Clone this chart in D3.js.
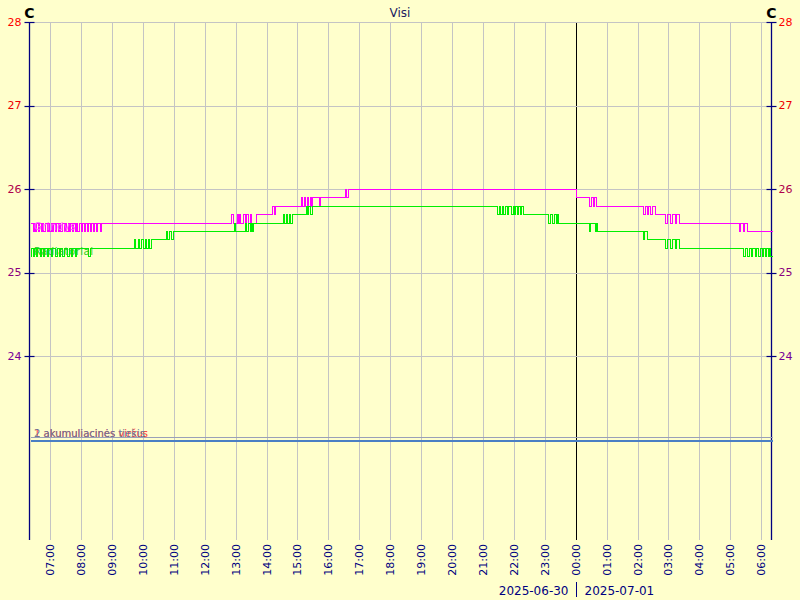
<!DOCTYPE html>
<html><head><meta charset="utf-8">
<script src="https://cdn.jsdelivr.net/npm/d3@7"></script>
<style>
html,body{margin:0;padding:0;background:#ffffcc;}
svg{display:block;font-family:"DejaVu Sans",sans-serif;}
</style></head>
<body>
<svg id="c" width="800" height="600"></svg>
<script>
// ---- data ----
const title = "Visi";
const unitLabel = "C";
const yTicks = [24, 25, 26, 27, 28];
const yTickColors = ["#770099", "#8a0080", "#b0004c", "#ee0000", "#ff0000"];
const hourTicks = ["07:00","08:00","09:00","10:00","11:00","12:00","13:00","14:00","15:00","16:00","17:00","18:00","19:00","20:00","21:00","22:00","23:00","00:00","01:00","02:00","03:00","04:00","05:00","06:00"];
const dateLabels = ["2025-06-30", "2025-07-01"];
const rangeStart = "2025-06-30T06:20";
const rangeEnd = "2025-07-01T06:20";

// Grindys (magenta): step readings [time, value]
const grindys = [
 ["06:20",25.6],["06:26",25.5],["06:28",25.6],["06:31",25.5],["06:33",25.6],["06:36",25.5],["06:39",25.6],
 ["06:42",25.5],["06:44",25.6],["06:47",25.5],["06:50",25.6],["06:53",25.5],["06:55",25.6],["06:58",25.5],
 ["07:01",25.6],["07:04",25.5],["07:06",25.6],["07:09",25.5],["07:12",25.6],["07:15",25.5],["07:17",25.6],
 ["07:20",25.5],["07:23",25.6],["07:26",25.5],["07:28",25.6],["07:31",25.5],["07:34",25.6],["07:37",25.5],
 ["07:39",25.6],["07:42",25.5],["07:45",25.6],["07:48",25.5],["07:50",25.6],["07:53",25.5],["07:56",25.6],
 ["07:59",25.5],["08:01",25.6],["08:05",25.5],["08:07",25.6],["08:11",25.5],["08:13",25.6],["08:17",25.5],
 ["08:19",25.6],["08:23",25.5],["08:25",25.6],["08:29",25.5],["08:31",25.6],["08:36",25.5],["08:38",25.6],
 ["12:52",25.7],["12:54",25.6],["13:02",25.7],["13:05",25.6],["13:07",25.7],["13:09",25.6],["13:15",25.7],
 ["13:18",25.6],["13:21",25.7],["13:24",25.6],["13:27",25.7],["13:29",25.6],["13:40",25.7],
 ["14:11",25.8],["14:14",25.7],["14:17",25.8],
 ["15:06",25.9],["15:09",25.8],["15:12",25.9],["15:15",25.8],["15:18",25.9],["15:21",25.8],["15:24",25.9],
 ["15:26",25.8],["15:29",25.9],["15:41",25.8],["15:43",25.9],
 ["16:33",26.0],["16:35",25.9],["16:38",26.0],
 ["00:01",25.9],["00:26",25.8],["00:29",25.9],["00:33",25.8],["00:35",25.9],["00:39",25.8],
 ["02:11",25.7],["02:14",25.8],["02:18",25.7],["02:21",25.8],["02:25",25.7],["02:28",25.8],["02:33",25.7],
 ["02:54",25.6],["02:57",25.7],["03:03",25.6],["03:06",25.7],["03:12",25.6],["03:15",25.7],["03:21",25.6],
 ["05:16",25.5],["05:19",25.6],["05:24",25.5],["05:27",25.6],["05:32",25.5]
];

// Radiatoriai (green)
const radiatoriai = [
 ["06:20",25.2],["06:23",25.3],["06:26",25.2],["06:28",25.3],["06:33",25.2],["06:35",25.3],["06:40",25.2],
 ["06:42",25.3],["06:46",25.2],["06:48",25.3],["06:53",25.2],["06:55",25.3],["07:02",25.2],["07:04",25.3],
 ["07:10",25.2],["07:13",25.3],["07:17",25.2],["07:19",25.3],["07:24",25.2],["07:26",25.3],["07:33",25.2],
 ["07:36",25.3],["07:41",25.2],["07:43",25.3],["07:49",25.2],["07:51",25.3],["08:14",25.2],["08:17",25.3],
 ["09:42",25.4],["09:44",25.3],["09:50",25.4],["09:53",25.3],["09:57",25.4],["10:00",25.3],["10:04",25.4],
 ["10:06",25.3],["10:10",25.4],["10:12",25.3],["10:16",25.4],
 ["10:44",25.5],["10:47",25.4],["10:51",25.5],["10:54",25.4],["10:58",25.5],
 ["12:56",25.6],["12:58",25.5],
 ["13:19",25.6],["13:21",25.5],["13:24",25.6],["13:27",25.5],["13:29",25.6],["13:31",25.5],["13:34",25.6],
 ["14:31",25.7],["14:33",25.6],["14:37",25.7],["14:40",25.6],["14:43",25.7],["14:45",25.6],["14:49",25.7],
 ["15:16",25.8],["15:18",25.7],["15:21",25.8],["15:24",25.7],["15:28",25.8],
 ["21:28",25.7],["21:31",25.8],["21:33",25.7],["21:37",25.8],["21:39",25.7],["21:43",25.8],["21:46",25.7],
 ["21:49",25.8],["21:54",25.7],["21:58",25.8],["22:01",25.7],["22:03",25.8],["22:06",25.7],["22:09",25.8],
 ["22:12",25.7],["22:14",25.8],["22:17",25.7],
 ["23:07",25.6],["23:10",25.7],["23:14",25.6],["23:17",25.7],["23:21",25.6],["23:23",25.7],["23:25",25.6],
 ["00:25",25.5],["00:28",25.6],["00:38",25.5],["00:40",25.6],["00:42",25.5],
 ["02:11",25.4],["02:13",25.5],["02:18",25.4],
 ["02:54",25.3],["02:57",25.4],["03:03",25.3],["03:06",25.4],["03:12",25.3],["03:15",25.4],["03:20",25.3],
 ["05:25",25.2],["05:28",25.3],["05:33",25.2],["05:36",25.3],["05:41",25.2],["05:43",25.3],["05:48",25.2],
 ["05:50",25.3],["05:54",25.2],["05:57",25.3],["06:02",25.2],["06:04",25.3],["06:08",25.2],["06:10",25.3],
 ["06:13",25.2],["06:15",25.3],["06:17",25.2]
];

// accumulation tank series (flat)
const akum1 = [["06:20",23.03]];
const akum2 = [["06:20",23.0]];

const seriesNames = ["Grindys", "Radiatoriai", "1 akumuliacinės viršus", "2 akumuliacinės tiekis"];
const seriesColors = ["#ff00ff", "#00ee00", "#9aa0b8", "#4a7fc4"];
const labelColors = ["#ff66ff", "#22cc22", "#ff3333", "#6a7a9c"];
const labelValues = [25.6, 25.3, 23.0, 23.0];

// ---- chart ----
const svg = d3.select("#c");
const W = 800, H = 600;
const L = 29.5, R = 771.5, T = 22, B = 540;
const start = new Date(rangeStart), end = new Date(rangeEnd);
const x = d3.scaleTime().domain([start, end]).range([L, R]);
const y = d3.scaleLinear().domain([21.8, 28]).range([B, T]);

function parseT(s){
  const [h,m] = s.split(":").map(Number);
  const d = new Date(start);
  d.setHours(h, m, 0, 0);
  if (d < start) d.setDate(d.getDate()+1);
  return d;
}
function toPts(arr){
  const p = arr.map(([t,v]) => ({t: parseT(t), v}));
  p.push({t: end, v: p[p.length-1].v});
  return p;
}

svg.append("rect").attr("width",W).attr("height",H).attr("fill","#ffffcc");

// vertical grid
const hourDates = hourTicks.map(parseT);
svg.append("g").selectAll("line").data(hourDates).join("line")
  .attr("x1", d => Math.round(x(d))+0.5).attr("x2", d => Math.round(x(d))+0.5)
  .attr("y1", T).attr("y2", B)
  .attr("stroke", d => d.getHours()===0 ? "#000000" : "#c4c4c4")
  .attr("stroke-width", 1).attr("shape-rendering","crispEdges");

// horizontal grid
svg.append("g").selectAll("line").data(yTicks).join("line")
  .attr("x1", L).attr("x2", R)
  .attr("y1", d => Math.round(y(d))+0.5).attr("y2", d => Math.round(y(d))+0.5)
  .attr("stroke", "#c4c4c4").attr("shape-rendering","crispEdges");

[L, R].forEach(ax => {
  svg.append("line").attr("x1", ax).attr("x2", ax).attr("y1", T).attr("y2", B)
    .attr("stroke", "#000080").attr("stroke-width", 1.3);
  svg.append("g").selectAll("line").data(yTicks).join("line")
    .attr("x1", ax-5).attr("x2", ax+5)
    .attr("y1", d => Math.round(y(d))+0.5).attr("y2", d => Math.round(y(d))+0.5)
    .attr("stroke", "#000080").attr("stroke-width", 1.2);
});

svg.append("g").selectAll("text").data(yTicks).join("text")
  .attr("x", L-8).attr("y", d => y(d)).attr("dy","0.35em").attr("text-anchor","end")
  .attr("font-size", 11).attr("fill", (d,i) => yTickColors[i]).text(d => d);
svg.append("g").selectAll("text").data(yTicks).join("text")
  .attr("x", R+7).attr("y", d => y(d)).attr("dy","0.35em").attr("text-anchor","start")
  .attr("font-size", 11).attr("fill", (d,i) => yTickColors[i]).text(d => d);

// unit labels and title
[L, R].forEach(ax => svg.append("text").attr("x", ax).attr("y", 18).attr("text-anchor","middle")
  .attr("font-size", 14).attr("font-weight","bold").attr("fill","#000").text(unitLabel));
svg.append("text").attr("x", 400).attr("y", 17).attr("text-anchor","middle")
  .attr("font-size", 12).attr("fill","#202060").text(title);

// x tick labels
svg.append("g").selectAll("text").data(hourDates).join("text")
  .attr("transform", d => `translate(${Math.round(x(d))+0.5},544) rotate(-90)`)
  .attr("text-anchor","end").attr("dy","0.35em")
  .attr("font-size", 11).attr("fill","#000080")
  .text((d,i) => hourTicks[i]);

// date labels
const midnight = parseT("00:00");
const mx = Math.round(x(midnight))+0.5;
svg.append("text").attr("x", mx-8).attr("y", 595).attr("text-anchor","end")
  .attr("font-size", 12).attr("fill","#000080").text(dateLabels[0]);
svg.append("text").attr("x", mx+8).attr("y", 595).attr("text-anchor","start")
  .attr("font-size", 12).attr("fill","#000080").text(dateLabels[1]);
svg.append("line").attr("x1", mx).attr("x2", mx).attr("y1", 582).attr("y2", 597).attr("stroke","#000080");

// series lines
const line = d3.line().x(d => Math.round(x(d.t))+0.5).y(d => Math.round(y(d.v))+0.5).curve(d3.curveStepAfter);
const allSeries = [grindys, radiatoriai, akum1, akum2];
allSeries.forEach((s,i) => {
  svg.append("path").datum(toPts(s)).attr("d", line)
    .attr("fill","none").attr("stroke", seriesColors[i])
    .attr("stroke-width", i===3 ? 2 : 1).attr("shape-rendering","crispEdges");
});

// series labels
const labelDy = [7, 7, -3, -3];
seriesNames.forEach((n,i) => {
  svg.append("text").attr("x", 34).attr("y", Math.round(y(labelValues[i])) + labelDy[i])
    .attr("font-size",10).attr("fill", labelColors[i])
    .attr("letter-spacing", i < 2 ? "0.5" : "0").text(n);
});
</script>
</body></html>
